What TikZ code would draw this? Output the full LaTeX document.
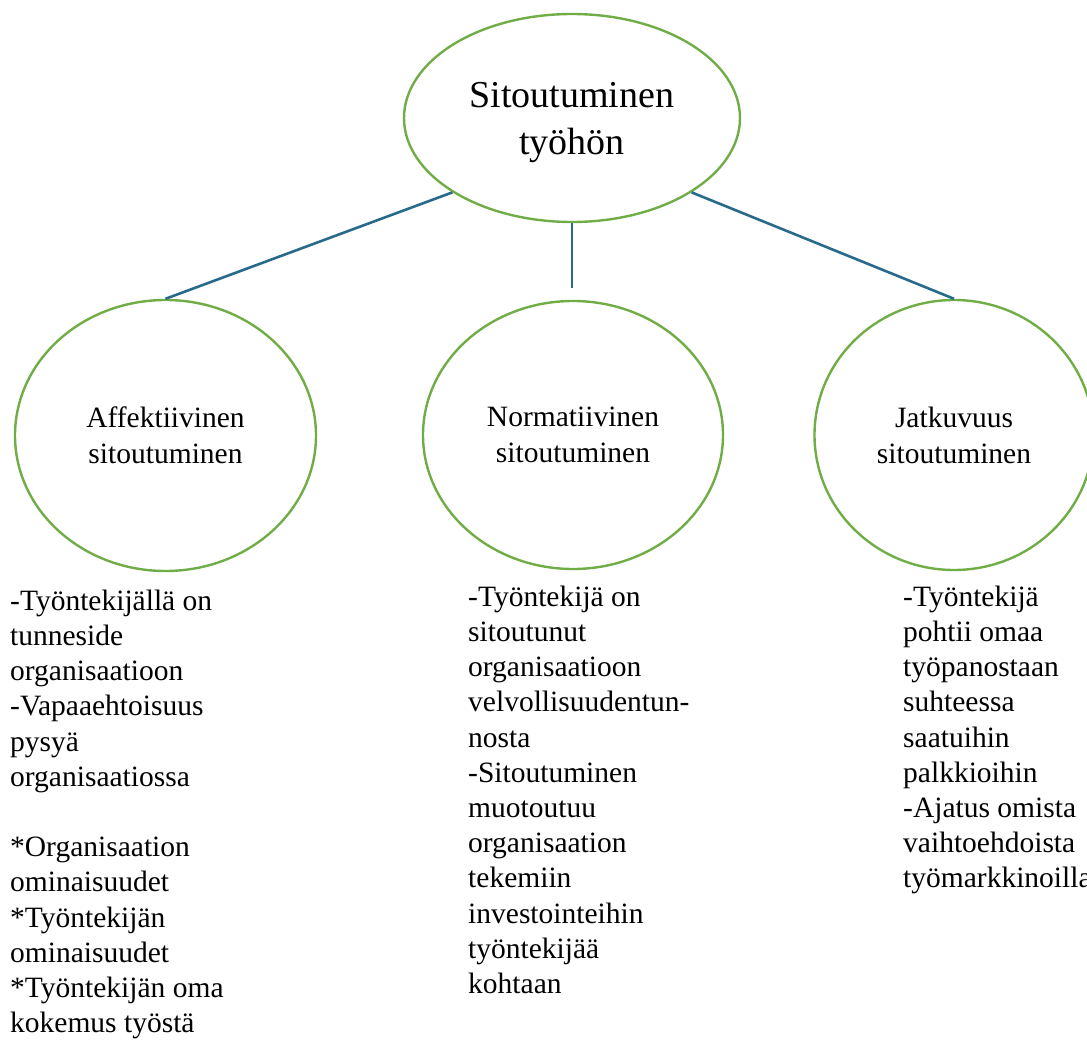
\documentclass[tikz,border=0pt]{standalone}
\usepackage{fontspec}
\usetikzlibrary{shapes.geometric}
\setmainfont{Liberation Serif}
\definecolor{ringgreen}{RGB}{112,173,71}
\definecolor{linkblue}{RGB}{40,106,140}
\tikzset{
  bub/.style={ellipse, draw=ringgreen, line width=2.4pt, inner sep=0pt, align=center, text depth=0pt},
  bigtxt/.style={font=\fontsize{38}{47}\selectfont},
  midtxt/.style={font=\fontsize{29.5}{36}\selectfont},
  desc/.style={anchor=north west, inner sep=0pt, align=left, font=\fontsize{29.5}{35.2}\selectfont},
  link/.style={draw=linkblue, line width=2.6pt}
}
\begin{document}
\begin{tikzpicture}[x=1pt,y=-1pt]
\useasboundingbox (0,0) rectangle (1087,1041);
\node[bub, bigtxt, minimum width=336pt, minimum height=208pt] (top) at (572,118) {Sitoutuminen\\työhön};
\node[bub, midtxt, minimum width=301pt, minimum height=271pt] (aff) at (165.5,435.5) {Affektiivinen\\sitoutuminen};
\node[bub, midtxt, minimum width=300pt, minimum height=268pt] (nor) at (573,435) {Normatiivinen\\sitoutuminen};
\node[bub, midtxt, minimum width=279pt, minimum height=270pt] (jat) at (954,435) {Jatkuvuus\\sitoutuminen};
\coordinate (midend) at (572,288);
\draw[link] (top.south west) -- (aff.north);
\draw[link] (top.south) -- (midend);
\draw[link] (top.south east) -- (jat.north);
\node[desc] (affdesc) at (10,{610-24.64}) {\strut -Työntekijällä on\\tunneside\\organisaatioon\\-Vapaaehtoisuus\\pysyä\\organisaatiossa\\[35.2pt]*Organisaation\\ominaisuudet\\*Työntekijän\\ominaisuudet\\*Työntekijän oma\\kokemus työstä};
\node[desc] (nordesc) at (468,{606-24.64}) {\strut -Työntekijä on\\sitoutunut\\organisaatioon\\velvollisuudentun-\\nosta\\-Sitoutuminen\\muotoutuu\\organisaation\\tekemiin\\investointeihin\\työntekijää\\kohtaan};
\node[desc] (jatdesc) at (903,{606-24.64}) {\strut -Työntekijä\\pohtii omaa\\työpanostaan\\suhteessa\\saatuihin\\palkkioihin\\-Ajatus omista\\vaihtoehdoista\\työmarkkinoilla};
\end{tikzpicture}
\end{document}
